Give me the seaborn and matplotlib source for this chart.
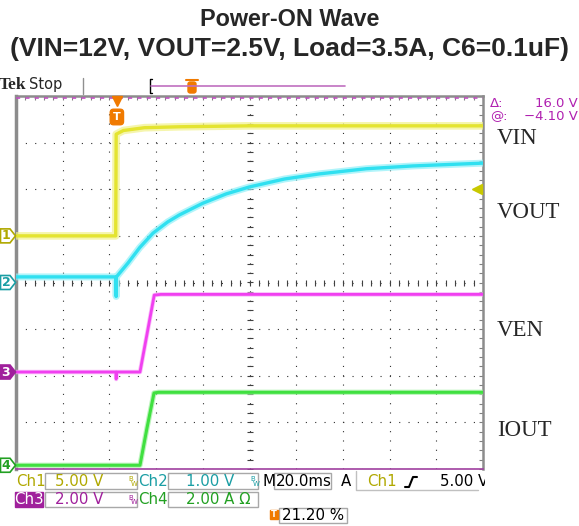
import numpy as np
import matplotlib
matplotlib.use("Agg")
import matplotlib.pyplot as plt
import matplotlib.patches as mpatches
import matplotlib.transforms as mtransforms
from matplotlib.ticker import MultipleLocator
from matplotlib.lines import Line2D
import seaborn as sns

# ---------------------------------------------------------
# Data (time = ms from left edge)
# ---------------------------------------------------------
vin_time = [0, 42.7, 42.9, 46, 55, 70, 100, 150, 200]
vin_volt = [0, 0, 10.9, 11.3, 11.6, 11.7, 11.8, 11.8, 11.8]

vout_time = [0, 42.8, 42.9, 43.0, 48, 53, 58.7, 65, 70, 80, 90, 100,
             115, 130, 150, 170, 200]
vout_volt = [0.12, 0.12, -0.3, 0.12, 0.42, 0.75, 1.06, 1.3, 1.45, 1.7,
             1.9, 2.05, 2.22, 2.33, 2.44, 2.5, 2.56]

ven_time = [0, 42.8, 42.9, 43.0, 53.1, 59.2, 62, 200]
ven_volt = [0, 0, -0.3, 0, 0, 3.3, 3.33, 3.33]

iout_time = [0, 53.1, 56.1, 59.1, 61, 200]
iout_amp = [0, 0, 1.6, 3.1, 3.13, 3.13]

# scope settings: units per division and ground offset in divisions
ch_scale = {"VIN": 5.0, "VOUT": 1.0, "VEN": 2.0, "IOUT": 2.0}
ch_offset = {"VIN": 1.0, "VOUT": 0.0, "VEN": -1.92, "IOUT": -3.92}
trig_time = 0.212 * 200     # 21.20 %
trig_level = 5.0            # Ch1

W, H = 579, 526
yellow, cyan, magenta, green = "#e4e430", "#30e0f0", "#f040f0", "#40e040"
olive, teal, purple, dgreen = "#b0a800", "#1a9ea4", "#a0209c", "#22a022"
orange = "#f07a00"


def to_div(values, ch):
    return [v / ch_scale[ch] + ch_offset[ch] for v in values]


def fx(x):
    return x / W


def fy(y):
    return 1 - y / H


sns.set_style("white")
plt.rcParams["font.family"] = ["DejaVu Sans"]
plt.rcParams["lines.scale_dashes"] = False

fig = plt.figure(figsize=(5.79, 5.26), dpi=100)
ax = fig.add_axes([16 / W, 1 - 469 / H, 467 / W, 373 / H])

# ---------------------------------------------------------
# Traces (pale wide band + solid core to look like scope noise)
# ---------------------------------------------------------
traces = [
    (vin_time, to_div(vin_volt, "VIN"), yellow, "#f2f28a", 2.4, 5.5),
    (vout_time, to_div(vout_volt, "VOUT"), cyan, "#90f0f8", 2.4, 5.0),
    (ven_time, to_div(ven_volt, "VEN"), magenta, "#f8a0f8", 2.0, 3.2),
    (iout_time, to_div(iout_amp, "IOUT"), green, "#a0f0a0", 2.2, 3.8),
]
for t, y, core, pale, lw_core, lw_band in traces:
    sns.lineplot(x=t, y=y, ax=ax, color=pale, lw=lw_band, alpha=0.7,
                 estimator=None, sort=False, zorder=3)
    sns.lineplot(x=t, y=y, ax=ax, color=core, lw=lw_core,
                 estimator=None, sort=False, zorder=4)

ax.set_xlim(0, 200)
ax.set_ylim(-4, 4)
ax.set_xlabel("")
ax.set_ylabel("")

# ---------------------------------------------------------
# Graticule
# ---------------------------------------------------------
ax.xaxis.set_major_locator(MultipleLocator(20))
ax.xaxis.set_minor_locator(MultipleLocator(4))
ax.yaxis.set_major_locator(MultipleLocator(1))
ax.yaxis.set_minor_locator(MultipleLocator(0.2))
ax.tick_params(which="both", direction="in", length=3, width=0.8,
               color="#808080", top=True, right=True,
               labelbottom=False, labelleft=False)
ax.xaxis.grid(True, color="#303030", lw=0.8, linestyle=(0, (0.8, 5.91)))
ax.yaxis.grid(True, color="#303030", lw=0.8, linestyle=(0, (0.8, 5.92)))
ax.set_axisbelow(True)

ax.plot(np.arange(0, 200.1, 4), np.zeros(51), ls="none", marker="|",
        ms=5, mew=0.8, color="#404040", zorder=1)
ax.plot(np.full(41, 100), np.arange(-4, 4.01, 0.2), ls="none", marker="_",
        ms=5, mew=0.8, color="#404040", zorder=1)

for side in ["left", "top", "right"]:
    ax.spines[side].set_color("#8c8c8c")
ax.spines["left"].set_linewidth(2.5)
ax.spines["top"].set_linewidth(1.8)
ax.spines["right"].set_linewidth(1.8)
ax.spines["bottom"].set_color("#a040a0")
ax.spines["bottom"].set_linewidth(1.2)
ax.plot([0, 200], [3.96, 3.96], color="#c050c0", lw=1.2,
        dashes=(3, 3.72), clip_on=False, zorder=5)

# trigger markers
ax.plot(trig_time + 0.8, 3.9, marker="v", ms=7, color=orange, clip_on=False,
        zorder=6)
ax.text(trig_time + 0.8, 3.55, "T", color="white", fontsize=8, weight="bold",
        ha="center", va="center", zorder=7,
        bbox=dict(boxstyle="round,pad=0.25,rounding_size=0.3", fc=orange, ec=orange))
ax.plot(197.5, trig_level / ch_scale["VIN"] + ch_offset["VIN"], marker="<",
        ms=7, color="#c8c800", clip_on=False, zorder=6)

# channel ground markers on the left
blend = mtransforms.blended_transform_factory(fig.transFigure, ax.transData)
markers = [("1", "VIN", olive, "white", olive),
           ("2", "VOUT", teal, "white", teal),
           ("3", "VEN", purple, purple, "white"),
           ("4", "IOUT", dgreen, "white", dgreen)]
for label, ch, ec, fc, tc in markers:
    y0 = ch_offset[ch]
    pts = [(fx(0.5), y0 - 0.15), (fx(10), y0 - 0.15), (fx(15.5), y0),
           (fx(10), y0 + 0.15), (fx(0.5), y0 + 0.15)]
    ax.add_patch(mpatches.Polygon(pts, closed=True, transform=blend,
                                  fc=fc, ec=ec, lw=1.2, clip_on=False, zorder=6))
    ax.text(fx(6), y0, label, transform=blend, color=tc, fontsize=9,
            weight="bold", ha="center", va="center", zorder=7)

# ---------------------------------------------------------
# Title and labels
# ---------------------------------------------------------
fig.text(0.5, fy(19), "Power-ON Wave", ha="center", va="center",
         fontsize=16.8, weight="bold", family="Liberation Sans")
fig.text(0.5, fy(49), "(VIN=12V, VOUT=2.5V, Load=3.5A, C6=0.1uF)",
         ha="center", va="center", fontsize=19, weight="bold",
         family="Liberation Sans")

for name, ypx in [("VIN", 139), ("VOUT", 212), ("VEN", 331), ("IOUT", 430)]:
    fig.text(fx(497), fy(ypx), name, ha="left", va="center", fontsize=16.5,
             family="Liberation Serif")

fig.text(fx(490), fy(103), "Δ:", color="#b020b0", fontsize=9.5, va="center")
fig.text(fx(578), fy(103), "16.0 V", color="#b020b0", fontsize=9.5,
         va="center", ha="right")
fig.text(fx(490), fy(117), "@:", color="#b020b0", fontsize=9.5, va="center")
fig.text(fx(578), fy(117), "\u22124.10 V", color="#b020b0", fontsize=9.5,
         va="center", ha="right")

# top status line
fig.text(fx(-1), fy(85), "Tek", fontsize=12.5, weight="bold",
         family="Liberation Serif", va="center")
fig.text(fx(29), fy(85), "Stop", fontsize=10.5, va="center")
fig.add_artist(Line2D([fx(83), fx(83)], [fy(78), fy(94)], color="#909090", lw=1))
fig.add_artist(Line2D([fx(152), fx(150), fx(150), fx(152)],
                      [fy(79), fy(79), fy(93), fy(93)], color="black", lw=1))
fig.add_artist(Line2D([fx(151), fx(345)], [fy(86), fy(86)], color="#c070c0", lw=1.2))
fig.patches.append(mpatches.FancyBboxPatch(
    (fx(188), fy(93)), 8 / W, 11 / H, boxstyle="round,pad=0,rounding_size=0.004",
    transform=fig.transFigure, fc=orange, ec=orange))
fig.add_artist(Line2D([fx(186), fx(198)], [fy(80), fy(80)], color=orange, lw=1.5))

# ---------------------------------------------------------
# Bottom readout
# ---------------------------------------------------------
def box(x0, y0, x1, y1, fc="white", ec="#a8a8a8"):
    fig.patches.append(mpatches.Rectangle((fx(x0), fy(y1)), (x1 - x0) / W,
                                          (y1 - y0) / H, transform=fig.transFigure,
                                          fc=fc, ec=ec, lw=1))


def bw(x, y, color):
    fig.text(fx(x), fy(y - 2), "B", fontsize=5, color=color, va="center")
    fig.text(fx(x + 3), fy(y + 3), "W", fontsize=5, color=color, va="center")


fs = 10.8
box(45, 473, 137, 489)
box(168, 473, 258, 489)
box(274, 473, 331, 489)
box(45, 492, 137, 507)
box(168, 492, 258, 507)
box(15, 492, 43, 507, fc=purple, ec=purple)
box(279, 508, 347, 523)
box(270, 510, 278, 519, fc=orange, ec=orange)

fig.text(fx(16), fy(481), "Ch1", color=olive, fontsize=fs, va="center")
fig.text(fx(55), fy(481), "5.00 V", color=olive, fontsize=fs, va="center")
bw(128, 481, olive)
fig.text(fx(138), fy(481), "Ch2", color=teal, fontsize=fs, va="center")
fig.text(fx(186), fy(481), "1.00 V", color=teal, fontsize=fs, va="center")
bw(250, 481, teal)
fig.text(fx(262), fy(481), "M", color="black", fontsize=fs, va="center")
fig.text(fx(276), fy(481), "20.0ms", color="black", fontsize=fs, va="center")
fig.text(fx(341), fy(481), "A", color="black", fontsize=fs, va="center")
fig.add_artist(Line2D([fx(356), fx(356), fx(478)], [fy(471), fy(490), fy(490)],
                      color="#c0c0c0", lw=1))
fig.text(fx(367), fy(481), "Ch1", color=olive, fontsize=fs, va="center")
fig.add_artist(Line2D([fx(405), fx(409), fx(413), fx(417)],
                      [fy(487), fy(487), fy(477), fy(477)], color="black", lw=1.5))
t5 = fig.text(fx(440), fy(481), "5.00 V", color="black", fontsize=fs, va="center")
t5.set_clip_box(mtransforms.TransformedBbox(
    mtransforms.Bbox([[0, 0], [fx(485), 1]]), fig.transFigure))
t5.set_clip_on(True)

fig.text(fx(29), fy(499.5), "Ch3", color="white", fontsize=fs, va="center",
         ha="center")
fig.text(fx(55), fy(499.5), "2.00 V", color=purple, fontsize=fs, va="center")
bw(128, 499.5, purple)
fig.text(fx(138), fy(499.5), "Ch4", color=dgreen, fontsize=fs, va="center")
fig.text(fx(186), fy(499.5), "2.00 A Ω", color=dgreen, fontsize=fs, va="center")

fig.text(fx(274), fy(514.5), "T", color="white", fontsize=6, weight="bold",
         va="center", ha="center")
fig.text(fx(282), fy(515.5), "21.20 %", color="black", fontsize=fs, va="center")

fig.savefig("out.png", dpi=100)
